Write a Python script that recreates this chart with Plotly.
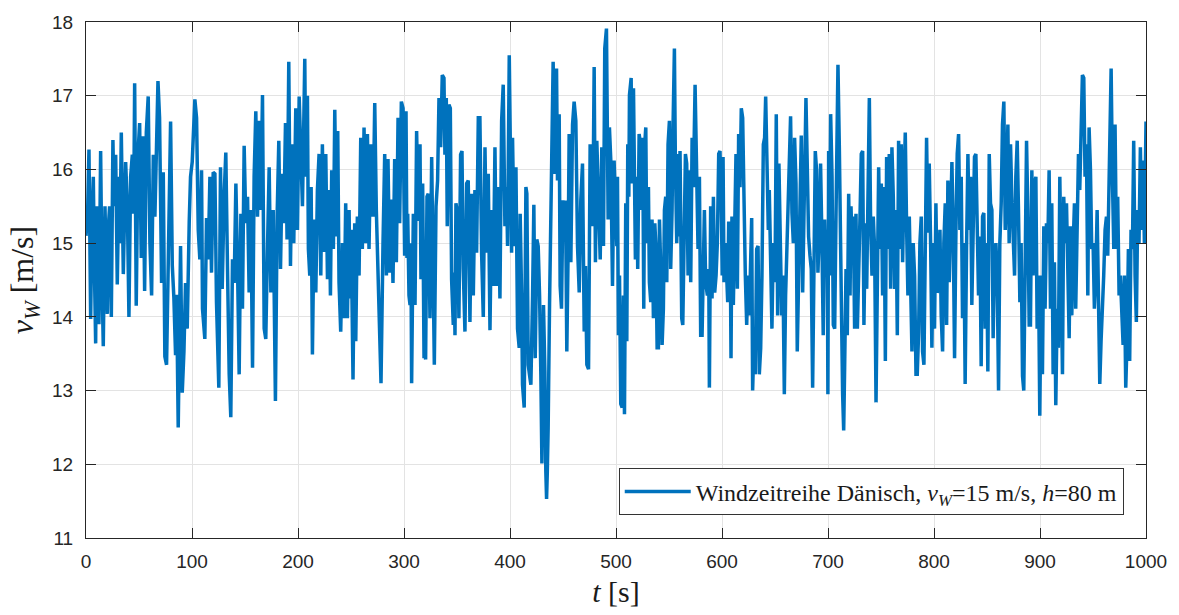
import plotly.graph_objects as go

# (time [s], wind speed [m/s]) pairs, per 100 s segment
seg_000 = [(0, 15.1), (1.5, 15.4), (2.8, 16.27), (4.4, 13.97), (5.5, 15.2), (6.9, 15.9), (8, 14.6), (9.1, 13.64),
           (10, 15.5), (11, 14.3), (12.2, 13.9), (13.8, 16.25), (15, 14.6), (16.3, 13.6), (17.9, 15.5), (19, 14.5),
           (20.1, 14.04), (21, 15.2), (22.3, 15.5), (23.9, 14.0), (25.4, 16.4), (26.5, 15.5), (28, 16.2), (29.5, 14.44),
           (31.1, 15.9), (32, 15.0), (33.3, 16.5), (35.2, 14.58), (36.3, 15.5), (37.4, 16.1), (39, 15.5), (40.5, 14.0),
           (42.1, 15.9), (43.7, 16.2), (45, 15.4), (45.9, 17.17), (47.4, 14.15), (49, 16.2), (50.6, 16.63), (52.1, 14.8),
           (53.7, 16.45), (55.3, 14.35), (56.9, 16.5), (58.7, 16.99), (60.3, 15.0), (61.9, 14.29), (63.5, 16.2),
           (65, 15.36), (66.5, 16.3), (67.9, 17.2), (69.4, 16.7), (71.3, 14.46), (72.9, 15.96), (74.4, 13.46),
           (76, 13.35), (77.6, 14.6), (79.8, 16.65), (81.4, 14.7), (82.9, 14.26), (84.5, 13.48), (85.5, 14.3),
           (87, 12.5), (88, 13.5), (89.2, 14.96), (90.8, 12.97), (92.4, 13.53), (93.9, 14.46), (95.5, 13.84),
           (97.4, 15.3), (98.6, 15.9), (100.2, 16.1)]
seg_100 = [(101.1, 16.39), (102.7, 16.95), (104.3, 16.7), (105.9, 15.18), (107.4, 14.78), (109, 15.99), (109.9, 14.11),
           (112.1, 13.7), (113.7, 15.34), (115.3, 14.78), (116.9, 15.9), (118.4, 14.6), (120, 15.96), (121.6, 15.94),
           (123.1, 14.2), (125.3, 13.04), (126.9, 16.03), (128.5, 14.38), (130.4, 15.67), (131.9, 16.23), (133.5, 14.65),
           (135.1, 13.22), (136.6, 12.64), (138.2, 14.78), (139.8, 14.46), (141.4, 15.81), (142.9, 14.74), (144.5, 13.22),
           (146.1, 15.4), (147.6, 14.11), (149.2, 16.32), (150.8, 15.27), (152.4, 15.63), (153.9, 14.33), (155.5, 15.45),
           (157.1, 13.31), (158.6, 15.9), (160.2, 16.79), (161.8, 15.36), (163.4, 16.66), (164.9, 15.45), (166.5, 17.01),
           (168.1, 13.84), (169.6, 13.7), (171.2, 14.92), (172.8, 16.03), (174.4, 14.33), (176.6, 15.45), (178.7, 12.86),
           (180.3, 15.36), (181.9, 16.39), (183.5, 14.65), (185, 15.94), (186.6, 15.27), (188.2, 16.63), (189.7, 15.05),
           (191.3, 17.46), (192.9, 14.69), (194.5, 16.34), (196, 15.0), (197.9, 16.83), (199.5, 15.18), (201.1, 16.99)]
seg_200 = [(202.6, 16.34), (204.2, 15.5), (206.4, 17.5), (207.3, 15.9), (208.9, 17.0), (209.8, 14.92), (211.1, 14.56),
           (212.4, 15.76), (213.6, 13.49), (215.2, 15.32), (216.8, 14.33), (218.3, 15.72), (219.9, 16.21), (221.5, 14.56),
           (223, 16.34), (224.6, 14.88), (226.2, 16.21), (227.8, 14.51), (229.3, 15.72), (230.6, 14.29), (231.8, 15.99),
           (233.4, 14.92), (234.7, 16.81), (236.2, 15.09), (237.5, 16.52), (238.7, 14.47), (240.3, 13.8), (241.9, 15.0),
           (243.5, 13.98), (245, 15.54), (246.6, 13.98), (248.2, 15.45), (249.1, 14.25), (250.1, 15.18), (251.9, 13.15),
           (253.5, 15.27), (254.5, 13.67), (256, 15.36), (257.6, 14.56), (259.2, 16.43), (260.7, 14.92), (262.3, 16.57),
           (263.9, 15.0), (265.5, 16.48), (267, 14.92), (268.6, 16.34), (270.8, 15.36), (272.4, 16.9), (273.9, 15.45),
           (275.8, 14.38), (277.4, 13.67), (278.3, 13.1), (280.2, 15.0), (281.8, 16.21), (283.4, 14.56), (284.9, 16.14),
           (286.5, 14.6), (288.1, 15.59), (289.6, 14.46), (291.2, 16.14), (292.8, 14.74), (294.4, 16.7), (295.9, 15.27),
           (297.5, 16.92), (299.1, 16.83), (300.6, 14.83)]
seg_300 = [(301.9, 16.79), (302.8, 14.8), (303.5, 15.4), (304.7, 14.29), (305.7, 14.16), (306.5, 15.0), (307.2, 13.1),
           (308.8, 15.4), (310.4, 14.16), (311.9, 16.52), (313.5, 15.3), (315.1, 16.34), (316, 14.51), (317.6, 15.81),
           (318.9, 13.44), (319.7, 14.5), (320.4, 13.42), (321.7, 15.63), (322.9, 15.67), (324.5, 13.98), (326.1, 16.17),
           (327, 15.4), (328.6, 13.35), (330.2, 15.5), (331.7, 15.85), (333, 16.97), (334.6, 16.3), (336.1, 17.28),
           (337.7, 17.24), (338.6, 16.2), (339.9, 16.97), (340.8, 15.23), (342.4, 16.88), (343.7, 16.83), (344.9, 14.51),
           (346.5, 13.89), (347.3, 14.6), (348.1, 13.75), (349, 15.54), (350.6, 15.4), (351.8, 13.98), (353.4, 16.2),
           (354.7, 16.25), (355.9, 14.65), (357.5, 13.8), (359.1, 15.81), (360.6, 15.85), (362.2, 13.93), (363.8, 15.67),
           (365.4, 14.29), (366.9, 15.72), (368.5, 14.87), (370.1, 16.7), (371.6, 16.7), (373.2, 14.87), (374.8, 14.0),
           (376.4, 16.3), (377.9, 14.87), (379.5, 15.94), (381.1, 13.82), (382.6, 15.45), (384.2, 14.42), (385.8, 16.3),
           (387.3, 14.42), (388.9, 15.76), (390.5, 14.25), (392.1, 16.66), (393.6, 17.15), (395.2, 15.23), (396.8, 15.76),
           (397.7, 14.96), (399.3, 17.55), (400.2, 16.75)]
seg_400 = [(401.5, 14.87), (402.4, 16.43), (404, 14.96), (405.6, 16.03), (407.1, 13.84), (408.7, 13.58), (409.6, 15.4),
           (410.9, 14.33), (411.8, 13.08), (413.4, 12.77), (415, 15.76), (415.9, 15.67), (417.2, 13.35), (418.8, 13.17),
           (419.7, 13.08), (421.3, 14.29), (422.5, 15.52), (423.8, 13.44), (425.3, 15.05), (426.6, 14.96), (427.9, 14.29),
           (429.1, 13.22), (430.1, 12.01), (431.6, 14.16), (432.9, 13.26), (433.8, 11.9), (434.5, 11.53), (435.2, 11.9),
           (436, 12.5), (437.3, 14.16), (438.5, 15.63), (439.5, 16.75), (440.7, 17.46), (442.3, 15.94), (443.9, 17.37),
           (444.8, 15.85), (446.4, 16.75), (447.3, 14.42), (448.6, 14.11), (449.9, 15.58), (451.1, 15.18), (452.4, 15.58),
           (453.6, 13.53), (454.9, 14.96), (455.8, 16.48), (457.4, 14.74), (459, 16.61), (460.5, 16.92), (462.1, 16.66),
           (463.7, 14.96), (465.3, 14.33), (466.8, 15.58), (468.4, 16.08), (470, 13.8), (471.2, 14.69), (472.5, 13.35),
           (474.1, 13.29), (475.6, 16.34), (476.9, 15.94), (478.1, 15.23), (479.4, 17.39), (480.6, 14.74), (481.9, 16.39),
           (483.5, 15.58), (485.1, 14.78), (486.6, 16.3), (488.2, 14.96), (489.4, 17.64), (491, 17.91), (492.6, 15.32),
           (493.8, 16.57), (495.1, 16.12), (496.7, 14.42), (498.2, 16.12), (499.5, 15.32), (500.8, 14.96)]
seg_500 = [(501.4, 15.9), (502.3, 13.75), (503.3, 14.56), (504.5, 12.82), (505.8, 12.77), (507, 14.29), (508, 12.68),
           (509.2, 15.54), (510.2, 13.67), (511.1, 16.34), (512.1, 15.63), (512.7, 17.01), (514.3, 17.24), (515.2, 15.81),
           (516.5, 17.1), (517.4, 15.0), (518.3, 14.78), (519.6, 15.9), (520.5, 14.65), (521.8, 16.48), (522.7, 16.39),
           (524.3, 15.45), (525.2, 16.43), (526.2, 14.11), (527.1, 16.34), (528.1, 16.57), (529, 15.0), (530.6, 15.76),
           (531.5, 14.47), (532.8, 14.2), (534, 15.32), (535.3, 13.98), (536.6, 15.27), (537.5, 15.0), (538.8, 13.58),
           (540, 13.58), (541, 15.32), (542.2, 14.65), (543.5, 13.62), (544.7, 14.11), (545.7, 15.45), (546.9, 15.63),
           (547.9, 14.47), (549.1, 16.34), (550.4, 16.66), (551.6, 14.65), (552.9, 15.45), (553.8, 16.57), (555.1, 17.64),
           (556, 16.12), (557.3, 15.0), (558.6, 16.21), (559.5, 15.09), (560.4, 16.25), (562, 13.98), (563, 13.89),
           (564.2, 15.0), (565.5, 16.21), (566.7, 16.08), (568, 14.56), (569.2, 15.99), (570.5, 14.47), (571.8, 16.43),
           (573, 15.76), (574.6, 17.15), (576.2, 15.45), (577.4, 14.92), (578.7, 15.9), (579.9, 13.75), (581.2, 13.75),
           (582.4, 15.18), (583.4, 15.45), (584.6, 14.47), (586.2, 14.29), (587.5, 14.65), (588.1, 13.04), (589.3, 15.5),
           (590.6, 14.25), (591.9, 15.63), (593.1, 14.33), (594.4, 14.56), (595.6, 15.0), (596.9, 16.21), (598.1, 16.25),
           (599.4, 15.45)]
seg_600 = [(600.2, 14.56), (601, 16.17), (601.9, 14.47), (603.2, 15.0), (604.4, 14.38), (605.4, 14.2), (606.3, 15.27),
           (607.6, 15.27), (608.5, 13.44), (609.4, 15.36), (610.7, 14.16), (612, 15.27), (613.2, 16.21), (614.5, 14.38),
           (615.7, 16.48), (617, 15.76), (618.2, 16.83), (619.5, 16.7), (620.8, 15.09), (622, 14.56), (623.3, 13.89),
           (624.5, 14.56), (625.8, 14.02), (627, 15.09), (628, 15.34), (628.9, 13.0), (630.2, 13.67), (631.4, 13.22),
           (632.7, 14.92), (634, 14.96), (635.2, 13.22), (636.5, 13.58), (637.7, 14.56), (639, 16.34), (640.2, 16.43),
           (641.2, 16.99), (642.4, 16.3), (643.7, 15.18), (644.6, 15.72), (645.9, 14.83), (647.1, 13.84), (648.4, 15.0),
           (650, 14.47), (651.2, 16.75), (652.5, 14.02), (653.7, 16.08), (655, 15.09), (656.3, 14.02), (657.5, 14.56),
           (658.8, 12.95), (660, 14.29), (661.3, 15.0), (662.5, 15.76), (663.8, 16.57), (664.7, 16.72), (666, 15.41),
           (667.3, 15.0), (668.5, 16.43), (669.8, 15.81), (671, 13.53), (672.3, 14.56), (673.5, 15.99), (674.8, 16.46),
           (676.1, 14.33), (677.6, 15.45), (679.2, 16.97), (680.4, 16.08), (681.7, 15.09), (683, 14.83), (684.2, 14.65),
           (685.5, 13.04), (686.7, 14.83), (688, 16.25), (689.2, 15.99), (690.5, 14.6), (691.8, 15.18), (693, 16.08),
           (694.3, 15.0), (695.5, 13.75), (696.8, 15.32), (698, 14.56), (699.3, 15.18), (699.9, 12.95), (700.6, 16.25)]
seg_700 = [(701.3, 14.56), (702.5, 16.75), (703.8, 15.9), (705, 13.89), (706.3, 13.84), (707.5, 15.32), (708.8, 17.01),
           (709.4, 17.42), (710.7, 16.3), (711.6, 14.6), (712.6, 14.2), (713.8, 12.95), (714.8, 12.46), (715.7, 13.31),
           (717, 14.65), (718.2, 13.75), (719.5, 15.67), (720.8, 14.29), (721.7, 15.5), (722.6, 15.05), (723.9, 15.36),
           (725.1, 13.84), (726.4, 15.4), (727.7, 13.84), (728.9, 14.83), (730.2, 15.36), (731.4, 16.21), (732.7, 16.25),
           (733.9, 13.89), (735.2, 15.27), (736.5, 14.38), (737.7, 15.63), (739, 16.97), (740.2, 15.27), (741.5, 14.56),
           (742.7, 15.36), (744, 14.92), (745.3, 12.84), (746.5, 14.33), (747.8, 16.03), (749, 14.92), (750.3, 15.81),
           (751.5, 14.29), (752.8, 15.76), (754.1, 13.4), (755.3, 16.17), (756.6, 14.92), (757.8, 16.21), (759.1, 14.38),
           (760.3, 16.3), (761.6, 15.63), (762.9, 14.38), (764.1, 15.45), (765.4, 13.75), (766.6, 16.39), (767.9, 14.92),
           (769.1, 16.34), (770.4, 14.74), (771.7, 15.81), (772.9, 16.5), (774.2, 15.18), (775.4, 14.29), (776.7, 15.36),
           (777.9, 14.65), (779.2, 13.53), (780.4, 15.0), (781.7, 14.56), (783, 13.22), (784.2, 13.22), (785.5, 13.8),
           (786.7, 15.0), (788, 15.36), (789.2, 13.53), (790.5, 13.35), (791.8, 14.65), (793, 16.43), (794.3, 15.14),
           (795.5, 16.08), (796.8, 15.0), (798, 13.58), (799.3, 15.0)]
seg_800 = [(800.5, 13.84), (801.8, 15.54), (803, 14.33), (804.3, 14.38), (805.6, 15.18), (806.8, 14.02), (808.1, 13.53),
           (809.3, 15.0), (810.6, 15.54), (811.9, 13.89), (813.1, 15.85), (814.4, 14.47), (815.6, 15.36), (816.9, 16.1),
           (818.1, 15.18), (819.4, 13.44), (820.7, 15.18), (821.9, 16.21), (823.2, 16.48), (824.4, 15.18), (825.7, 15.9),
           (826.9, 13.98), (828.2, 15.0), (829.4, 13.09), (830.7, 14.92), (832, 16.21), (833.2, 15.18), (834.5, 15.9),
           (835.7, 14.16), (837, 15.0), (838.2, 16.17), (839.5, 16.21), (840.8, 15.36), (842, 14.29), (843.3, 15.09),
           (844.5, 13.33), (845.8, 15.36), (847, 15.41), (848.3, 13.84), (849.6, 15.0), (850.8, 13.26), (852.1, 16.21),
           (853.3, 15.54), (854.6, 15.45), (855.8, 13.71), (857.1, 14.78), (858.4, 15.0), (859.6, 14.56), (860.9, 13.0),
           (862.1, 15.0), (863.4, 15.54), (864.6, 16.61), (865.9, 16.92), (867.2, 15.18), (868.4, 15.72), (869.7, 16.61),
           (870.9, 15.0), (872.2, 16.34), (873.4, 15.63), (874.7, 14.92), (876, 14.56), (877.2, 15.9), (878.5, 16.39),
           (879.7, 15.45), (881, 14.2), (882.2, 15.0), (883.5, 13.2), (884.7, 13.0), (886, 15.0), (887.3, 16.39),
           (888.5, 15.45), (889.8, 13.89), (891, 13.89), (892.3, 15.99), (893.5, 14.56), (894.8, 15.81), (896.1, 15.9),
           (897.3, 13.84), (898.6, 14.56)]
seg_900 = [(899.8, 12.66), (901.1, 14.56), (902.3, 13.22), (903.6, 15.23), (904.8, 14.11), (906.1, 15.27), (907.4, 15.0),
           (908.6, 15.99), (909.9, 14.11), (911.1, 15.54), (912.4, 13.22), (913.6, 14.74), (914.9, 12.8), (916.2, 14.11),
           (917.4, 13.58), (918.7, 15.9), (919.9, 14.56), (921.2, 13.22), (922.4, 15.63), (923.7, 15.0), (925, 15.54),
           (926.2, 14.29), (927.5, 13.71), (928.7, 15.23), (930, 14.02), (931.2, 14.92), (932.5, 15.54), (933.7, 14.11),
           (935, 14.92), (936.3, 16.21), (937.5, 15.72), (938.8, 16.86), (940, 17.28), (941.3, 17.24), (942.5, 15.9),
           (943.8, 16.34), (945.1, 14.29), (946.3, 16.57), (947.6, 15.99), (948.8, 14.92), (950.1, 15.0), (951.3, 14.11),
           (952.6, 14.56), (953.9, 15.45), (955.1, 13.93), (956.4, 13.09), (957.6, 13.67), (958.9, 14.02), (960.1, 14.56),
           (961.4, 15.18), (962.7, 15.36), (963.9, 14.83), (965.2, 15.67), (966.4, 16.52), (967.1, 17.37), (968.3, 15.9),
           (969.6, 14.92), (970.8, 16.61), (972.1, 14.92), (973.3, 15.63), (974.6, 14.29), (975.8, 14.56), (977.1, 14.11),
           (978.4, 13.62), (979.6, 14.56), (980.9, 13.04), (982.1, 13.67), (983.4, 14.92), (984.6, 13.4), (985.9, 15.18),
           (987.2, 14.92), (988.4, 16.39), (989.7, 14.56), (990.9, 13.93), (992.2, 15.45), (993.4, 15.0), (994.7, 16.3),
           (996, 15.18), (997.2, 16.12), (998.5, 15.0), (1000, 16.65)]

segments = [seg_000, seg_100, seg_200, seg_300, seg_400, seg_500, seg_600, seg_700, seg_800, seg_900]
t_s = [p[0] for seg in segments for p in seg]
v_w = [p[1] for seg in segments for p in seg]

x_ticks = [0, 100, 200, 300, 400, 500, 600, 700, 800, 900, 1000]
y_ticks = [11, 12, 13, 14, 15, 16, 17, 18]

legend_label = "Windzeitreihe Dänisch, <i>v</i><sub><i>W</i></sub>=15 m/s, <i>h</i>=80 m"

fig = go.Figure()
fig.add_trace(go.Scatter(x=t_s, y=v_w, mode="lines", name=legend_label,
                         line=dict(color="#0072BD", width=3.5)))

axis_common = dict(
    showline=True, linecolor="#262626", linewidth=1, mirror="ticks",
    ticks="inside", ticklen=10, tickcolor="#262626", tickwidth=1,
    showgrid=True, gridcolor="#e3e3e3", gridwidth=1, zeroline=False,
    tickfont=dict(family="Liberation Sans, Arial, sans-serif", size=19, color="#262626"),
)

serif = "Liberation Serif, Times New Roman, serif"

fig.update_layout(
    width=1179, height=615,
    margin=dict(l=86, r=32, t=17, b=75),
    paper_bgcolor="white", plot_bgcolor="white",
    showlegend=True,
    legend=dict(x=0.979, y=0.044, xanchor="right", yanchor="bottom",
                bgcolor="white", bordercolor="#333333", borderwidth=1,
                font=dict(family=serif, size=24, color="#1a1a1a"),
                itemwidth=66),
    xaxis=dict(range=[0, 1000], tickvals=x_ticks, ticklabelstandoff=6,
               title=dict(text="<i>t</i> [s]", standoff=10,
                          font=dict(family=serif, size=30, color="#1a1a1a")),
               **axis_common),
    yaxis=dict(range=[11, 18], tickvals=y_ticks, ticklabelstandoff=8,
               title=dict(text="<i>v</i><sub><i>W</i></sub> [m/s]", standoff=8,
                          font=dict(family=serif, size=32, color="#1a1a1a")),
               **axis_common),
)

fig.write_html("out.html")
